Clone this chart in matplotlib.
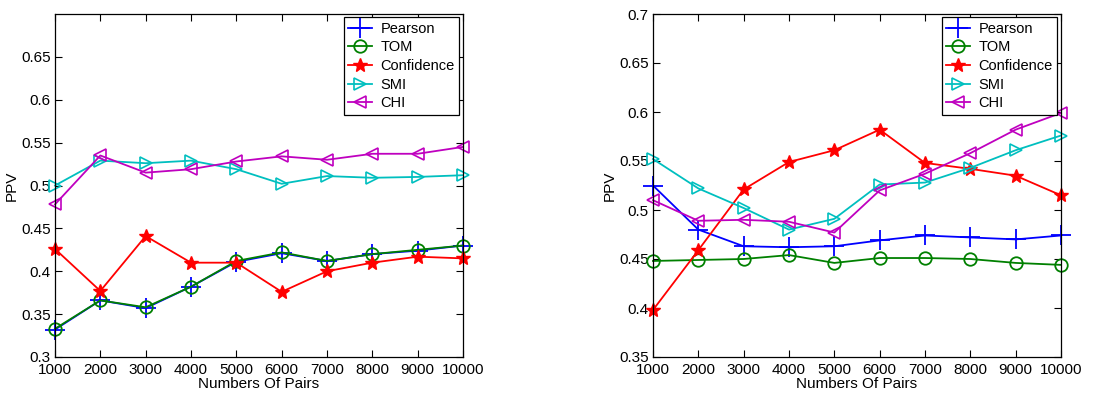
import matplotlib.pyplot as plt

plt.rcParams['font.family'] = ['Liberation Sans', 'DejaVu Sans']

# Datos
pares = [1000, 2000, 3000, 4000, 5000, 6000, 7000, 8000, 9000, 10000]
nombres = ['Pearson', 'TOM', 'Confidence', 'SMI', 'CHI']

# panel izquierdo
izq_pearson = [0.332, 0.366, 0.357, 0.382, 0.411, 0.421, 0.412, 0.420, 0.424, 0.430]
izq_tom = [0.333, 0.366, 0.358, 0.382, 0.412, 0.422, 0.412, 0.420, 0.425, 0.430]
izq_conf = [0.426, 0.377, 0.441, 0.410, 0.410, 0.376, 0.400, 0.410, 0.417, 0.415]
izq_smi = [0.500, 0.529, 0.526, 0.529, 0.519, 0.502, 0.511, 0.509, 0.510, 0.512]
izq_chi = [0.478, 0.535, 0.515, 0.519, 0.528, 0.534, 0.530, 0.537, 0.537, 0.545]

# panel derecho
der_pearson = [0.525, 0.480, 0.463, 0.462, 0.463, 0.469, 0.474, 0.472, 0.470, 0.474]
der_tom = [0.448, 0.449, 0.450, 0.454, 0.446, 0.451, 0.451, 0.450, 0.446, 0.444]
der_conf = [0.398, 0.459, 0.521, 0.549, 0.561, 0.582, 0.548, 0.542, 0.535, 0.515]
der_smi = [0.552, 0.522, 0.502, 0.480, 0.491, 0.526, 0.528, 0.543, 0.561, 0.576]
der_chi = [0.510, 0.489, 0.490, 0.488, 0.477, 0.520, 0.537, 0.558, 0.582, 0.599]

estilos = [
    dict(color='#0000ff', marker='+', markersize=15, markeredgewidth=1.3),
    dict(color='#008000', marker='o', markersize=9, markerfacecolor='none', markeredgewidth=1.3),
    dict(color='#ff0000', marker='*', markersize=10),
    dict(color='#00bfbf', marker='>', markersize=8, markerfacecolor='none', markeredgewidth=1.2),
    dict(color='#bf00bf', marker='<', markersize=8, markerfacecolor='none', markeredgewidth=1.2),
]

fig = plt.figure(figsize=(11.19, 3.93), dpi=100)
ax1 = fig.add_axes([55 / 1119, 36 / 393, 408 / 1119, 343 / 393])
ax2 = fig.add_axes([653 / 1119, 36 / 393, 408 / 1119, 343 / 393])

paneles = [
    (ax1, [izq_pearson, izq_tom, izq_conf, izq_smi, izq_chi], (0.3, 0.7),
     [0.3, 0.35, 0.4, 0.45, 0.5, 0.55, 0.6, 0.65]),
    (ax2, [der_pearson, der_tom, der_conf, der_smi, der_chi], (0.35, 0.7),
     [0.35, 0.4, 0.45, 0.5, 0.55, 0.6, 0.65, 0.7]),
]

for ax, series, lim, yt in paneles:
    for nombre, vals, est in zip(nombres, series, estilos):
        ax.plot(pares, vals, linewidth=1.3, label=nombre, clip_on=False, **est)
    ax.set_xlim(1000, 10000)
    ax.set_ylim(*lim)
    ax.set_xticks(pares)
    ax.set_yticks(yt)
    ax.set_yticklabels([('%g' % v) for v in yt])
    ax.tick_params(direction='in', top=True, right=True, labelsize=11, pad=3, length=5)
    ax.tick_params(axis='x', pad=4)
    ax.set_xlabel('Numbers Of Pairs', fontsize=11, labelpad=0)
    ax.set_ylabel('PPV', fontsize=11, labelpad=2)
    for s in ax.spines.values():
        s.set_linewidth(0.9)
    leg = ax.legend(loc='upper right', fontsize=10.5, fancybox=False, framealpha=1,
                    edgecolor='black', bbox_to_anchor=(0.99, 0.99), borderaxespad=0,
                    handlelength=1.6, labelspacing=0.32, borderpad=0.3, handletextpad=0.6)
    leg.get_frame().set_linewidth(0.9)

fig.savefig('out.png', dpi=100)
